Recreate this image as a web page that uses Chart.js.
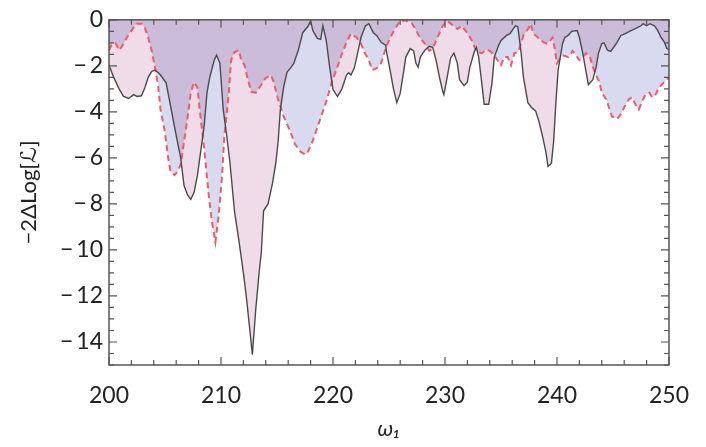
<!DOCTYPE html>
<html>
<head>
<meta charset="utf-8">
<script src="https://cdn.jsdelivr.net/npm/chart.js@4/dist/chart.umd.min.js"></script>
<style>
  html, body { margin: 0; background: #fff; }
  #wrap { width: 706px; height: 447px; }
</style>
</head>
<body>
<div id="wrap"><canvas id="c"></canvas></div>
<script>
// solid grey curve
var solidX = [200.0, 200.4, 200.9, 201.3, 201.75, 202.2, 202.5, 202.9, 203.2, 203.5, 203.8, 204.1, 204.4, 204.6, 205.1, 205.5, 205.95, 206.4, 206.7, 207.0, 207.3, 207.6, 207.9, 208.5, 208.75, 209.0, 209.4, 209.6, 209.9,
  210.2, 210.5, 210.8, 211.2, 211.6, 212.0, 212.3, 212.6, 212.8, 213.1, 213.4, 213.6, 213.8, 214.2, 214.6, 214.9, 215.1, 215.3, 215.6, 215.9, 216.2,
  216.5, 216.9, 217.3, 217.8, 218.0, 218.2, 218.6, 218.9, 219.1, 219.4, 219.7, 220.0, 220.4, 220.8, 221.2, 221.4, 221.6, 221.9, 222.2, 222.5, 222.9, 223.2, 223.6, 223.9, 224.3, 224.7,
  224.8, 225.1, 225.4, 225.7, 226.0, 226.3, 226.5, 226.9, 227.2, 227.4, 227.6, 227.8, 228.2, 228.6, 228.9, 229.2, 229.5, 229.8, 229.9, 230.2, 230.5, 230.8, 231.1, 231.3, 231.7, 232.0, 232.2, 232.6, 232.8,
  233.0, 233.2, 233.5, 233.9, 234.2, 234.4, 234.8, 235.0, 235.5, 235.8, 236.1, 236.3, 236.5, 236.8, 237.0, 237.4, 237.7, 238.1, 238.4, 238.7, 239.0, 239.2, 239.5, 239.7, 239.9, 240.1, 240.5, 240.7, 241.0, 241.3,
  241.8, 242.0, 242.3, 242.6, 242.8, 243.2, 243.5, 243.7, 244.0, 244.2, 244.5, 244.8, 245.3, 245.7, 246.1, 246.6, 247.0, 247.5, 247.7, 248.0, 248.3, 248.7, 249.0, 249.3, 249.6, 249.8, 250.0];
var solidY = [-1.97, -2.48, -3.0, -3.33, -3.42, -3.25, -3.33, -3.3, -2.95, -2.5, -2.25, -2.18, -2.3, -2.4, -2.74, -3.75, -4.9, -6.0, -7.2, -7.6, -7.8, -7.5, -6.75, -4.6, -3.17, -2.48, -1.75, -1.54, -1.88,
  -3.9, -5.0, -6.2, -8.3, -9.6, -11.0, -12.2, -13.6, -14.55, -12.6, -11.0, -10.1, -8.3, -8.0, -7.1, -6.2, -5.3, -3.9, -2.9, -2.27, -2.1,
  -1.9, -1.32, -0.56, -0.26, -0.04, -0.47, -0.81, -0.85, -0.26, -0.9, -2.05, -3.03, -3.33, -3.0, -2.4, -2.3, -2.4, -2.1, -1.45, -0.77, -0.26, -0.17, -0.56, -0.68, -0.98, -1.1,
  -1.45, -2.2, -3.0, -3.6, -3.2, -2.27, -1.62, -1.25, -1.35, -1.88, -2.05, -1.62, -1.32, -1.15, -1.2, -1.75, -2.48, -3.12, -3.25, -2.48, -1.67, -1.45, -1.88, -2.6, -2.86, -2.7, -2.1, -1.41, -1.2,
  -1.6, -2.4, -3.67, -3.67, -2.74, -1.62, -1.1, -0.9, -0.68, -0.6, -0.38, -0.26, -0.3, -1.45, -2.48, -3.6, -3.8, -3.97, -4.44, -5.04, -5.73, -6.37, -6.24, -5.3, -3.6, -2.18, -1.03, -0.77, -0.68, -0.5,
  -0.47, -0.77, -1.45, -2.27, -2.82, -2.6, -2.05, -1.45, -1.03, -1.0, -1.32, -1.37, -1.03, -0.68, -0.6, -0.47, -0.38, -0.26, -0.17, -0.26, -0.17, -0.26, -0.47, -0.77, -0.98, -1.25, -1.3];

// dashed red curve
var dashX = [200.0, 200.3, 200.6, 200.9, 201.1, 201.6, 202.0, 202.45, 202.9, 203.2, 203.5, 203.8, 204.1, 204.4, 204.6, 205.0, 205.25, 205.5, 205.85, 206.1, 206.4, 206.7, 207.0, 207.3, 207.6, 207.9,
  208.1, 208.5, 208.9, 209.2, 209.5, 209.8, 210.1, 210.3, 210.7, 210.9, 211.2, 211.6, 211.8, 212.1, 212.4, 212.7, 213.1, 213.6, 214.0, 214.45, 214.7, 215.1, 215.6, 216.2, 216.6, 217.1, 217.5, 217.7,
  218.2, 218.8, 219.4, 219.9, 220.3, 220.75, 221.2, 221.6, 222.1, 222.5, 222.8, 223.2, 223.5, 223.9, 224.3, 224.7, 225.1, 225.6, 226.0, 226.5, 227.0, 227.4, 227.8, 228.2, 228.6, 228.9,
  229.3, 229.8, 230.2, 230.6, 231.1, 231.5, 232.0, 232.4, 232.8, 233.3, 233.7, 234.0, 234.4, 234.8, 235.0, 235.3, 235.6, 235.9, 236.2, 236.5, 236.8, 237.0, 237.5, 237.65, 237.9, 238.4, 238.8,
  239.1, 239.4, 239.6, 239.8, 240.0, 240.3, 240.5, 241.0, 241.4, 241.8, 242.0, 242.3, 242.6, 242.9, 243.2, 243.5, 243.8, 244.0, 244.4, 244.7, 244.9, 245.4, 245.7, 246.0, 246.4, 246.7,
  247.0, 247.3, 247.6, 247.9, 248.25, 248.5, 248.8, 249.1, 249.5, 249.8, 250.0];
var dashY = [-1.32, -1.03, -1.03, -1.32, -1.2, -0.77, -0.47, -0.17, -0.17, -0.34, -0.77, -1.32, -2.05, -2.9, -3.9, -4.9, -5.9, -6.6, -6.75, -6.6, -6.3, -5.3, -4.3, -3.17, -2.7, -2.95,
  -3.9, -5.6, -7.6, -8.8, -9.66, -8.46, -6.75, -5.04, -3.17, -1.75, -1.41, -1.32, -1.75, -1.97, -2.6, -3.12, -3.17, -2.82, -2.52, -2.4, -2.7, -3.46, -4.2, -4.87, -5.4, -5.73, -5.85, -5.8,
  -5.25, -4.4, -3.55, -2.7, -2.18, -1.54, -0.98, -0.6, -0.77, -1.03, -1.41, -1.75, -2.18, -2.1, -1.88, -1.25, -0.77, -0.34, -0.04, -0.04, -0.1, -0.45, -0.8, -1.03, -1.35, -1.25,
  -0.8, -0.26, -0.05, -0.2, -0.4, -0.26, -0.58, -0.9, -1.38, -1.45, -1.3, -1.35, -1.54, -1.84, -1.97, -1.62, -1.62, -1.97, -1.45, -1.41, -1.03, -0.68, -0.34, -0.17, -0.6, -0.81, -0.98,
  -1.03, -0.9, -0.77, -1.25, -1.88, -1.67, -1.54, -1.62, -1.35, -1.62, -1.75, -1.62, -1.45, -1.54, -2.05, -2.4, -2.74, -3.17, -3.46, -3.9, -4.2, -4.3, -4.1, -3.8, -3.46, -3.37,
  -3.67, -3.9, -3.55, -3.25, -3.17, -3.37, -3.25, -2.95, -2.74, -2.6, -2.5];

var xTicks = [200, 210, 220, 230, 240, 250];
var yTicks = [0, -2, -4, -6, -8, -10, -12, -14];

function pts(xs, ys) {
  return xs.map(function (x, i) { return { x: x, y: ys[i] }; });
}

var FONT = "Lato, 'DejaVu Sans', sans-serif";

// fills multiply so the overlap turns purple, lines drawn normally
var blendFills = {
  id: 'blendFills',
  beforeDraw: function (chart) { chart.ctx.globalCompositeOperation = 'multiply'; },
  beforeDatasetDraw: function (chart) { chart.ctx.globalCompositeOperation = 'source-over'; },
  afterDraw: function (chart) { chart.ctx.globalCompositeOperation = 'source-over'; }
};

// frame with inward ticks on all four sides
var frameTicks = {
  id: 'frameTicks',
  afterDraw: function (chart) {
    var ctx = chart.ctx, a = chart.chartArea, xs = chart.scales.x, ys = chart.scales.y;
    ctx.save();
    ctx.globalCompositeOperation = 'source-over';
    ctx.lineWidth = 1.5;
    ctx.strokeStyle = '#555';
    ctx.strokeRect(a.left, a.top, a.right - a.left, a.bottom - a.top);
    ctx.strokeStyle = '#555';
    ctx.lineWidth = 1.2;
    var v, p, len;
    for (v = 200; v <= 250; v += 2) {
      p = xs.getPixelForValue(v);
      len = v % 10 === 0 ? 8 : 5;
      ctx.beginPath();
      ctx.moveTo(p, a.bottom); ctx.lineTo(p, a.bottom - len);
      ctx.moveTo(p, a.top); ctx.lineTo(p, a.top + len);
      ctx.stroke();
    }
    for (v = 0; v >= -15; v -= 0.5) {
      p = ys.getPixelForValue(v);
      len = v % 2 === 0 ? 8 : 5;
      ctx.beginPath();
      ctx.moveTo(a.left, p); ctx.lineTo(a.left + len, p);
      ctx.moveTo(a.right, p); ctx.lineTo(a.right - len, p);
      ctx.stroke();
    }
    ctx.restore();
  }
};

new Chart(document.getElementById('c'), {
  type: 'line',
  data: {
    datasets: [{
      label: 'solid',
      data: pts(solidX, solidY),
      borderColor: '#4a4a4a',
      borderWidth: 1.4,
      backgroundColor: '#f0dce8',
      fill: 'origin',
      pointRadius: 0,
      tension: 0
    }, {
      label: 'dashed',
      data: pts(dashX, dashY),
      borderColor: '#ee5c66',
      borderWidth: 2,
      borderDash: [6, 4],
      backgroundColor: '#d8daf0',
      fill: 'origin',
      pointRadius: 0,
      tension: 0
    }]
  },
  options: {
    responsive: true,
    maintainAspectRatio: false,
    devicePixelRatio: 1,
    animation: false,
    layout: { padding: { top: 14, right: 26, left: 0, bottom: 0 } },
    plugins: {
      legend: { display: false },
      tooltip: { enabled: false },
      filler: { drawTime: 'beforeDatasetsDraw' }
    },
    scales: {
      x: {
        type: 'linear',
        min: 200,
        max: 250,
        afterBuildTicks: function (s) { s.ticks = xTicks.map(function (v) { return { value: v }; }); },
        afterFit: function (s) { s.height = 82; },
        grid: { display: false, drawTicks: false },
        border: { display: false },
        ticks: { color: '#222', font: { family: FONT, size: 23 }, padding: 17, maxRotation: 0 },
        title: { display: true, text: 'ω₁', color: '#222', font: { family: FONT, size: 22, style: 'italic' }, padding: { top: 0, bottom: 5 } }
      },
      y: {
        min: -15,
        max: 0,
        afterBuildTicks: function (s) { s.ticks = yTicks.map(function (v) { return { value: v }; }); },
        afterFit: function (s) { s.width = 109; },
        grid: { display: false, drawTicks: false },
        border: { display: false },
        ticks: {
          color: '#222',
          font: { family: FONT, size: 23 },
          padding: 6,
          callback: function (v) { return v === 0 ? '0' : '\u2212\u2009' + Math.abs(v); }
        },
        title: { display: true, text: '\u22122\u0394Log[\u2112]', color: '#222', font: { family: FONT, size: 22 }, padding: { top: 16, bottom: 0 } }
      }
    }
  },
  plugins: [blendFills, frameTicks]
});
</script>
</body>
</html>
